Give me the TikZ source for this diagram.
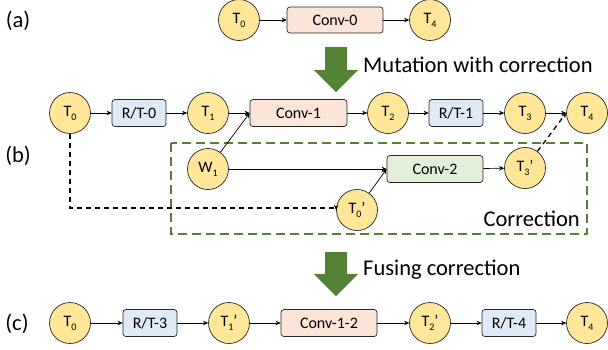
\documentclass[tikz,border=0pt]{standalone}
\usepackage{fontspec}
\setmainfont{Carlito}
\usetikzlibrary{arrows.meta}
\definecolor{circfill}{HTML}{FFE699}
\definecolor{convfill}{HTML}{FBE5D6}
\definecolor{rtfill}{HTML}{DEEBF7}
\definecolor{cvtwofill}{HTML}{E2F0D9}
\definecolor{darkgreen}{HTML}{548235}
\newcommand{\subs}[1]{\raisebox{-0.25em}{\fontsize{10}{10}\selectfont #1}}
\begin{document}
\begin{tikzpicture}[x=1pt,y=-1pt,
  tens/.style={circle,draw=black!85,line width=0.7pt,fill=circfill,minimum size=41pt,inner sep=0pt,font=\fontsize{16}{16}\selectfont},
  opbox/.style={rectangle,rounded corners=3pt,draw=black!85,line width=0.7pt,minimum height=27pt,inner sep=0pt,font=\fontsize{16}{16}\selectfont},
  rtbox/.style={opbox,fill=rtfill,minimum width=54pt},
  convbox/.style={opbox,fill=convfill,minimum width=96pt},
  cvtwobox/.style={opbox,fill=cvtwofill,minimum width=96pt},
  conn/.style={-{Stealth[length=5pt,width=4.5pt]},line width=0.7pt},
  dconn/.style={conn,dash pattern=on 5pt off 4pt,line width=1.3pt},
  biglabel/.style={font=\fontsize{22.5}{22.5}\selectfont,inner sep=0pt},
  bigarrow/.style={fill=darkgreen,draw=none},
  corrframe/.style={draw=darkgreen,line width=1.8pt,dash pattern=on 9pt off 5pt}]
\useasboundingbox (0,0) rectangle (608,349);

% labels
\node[biglabel] (la) at (18,21) {(a)};
\node[biglabel] (lb) at (18,156) {(b)};
\node[biglabel] (lc) at (17,324) {(c)};

% (a)
\node[tens] (aT0) at (239,20) {T\subs{0}};
\node[convbox,minimum height=26pt] (aC0) at (335,20) {Conv-0};
\node[tens] (aT4) at (430,20) {T\subs{4}};
\draw[conn] (aT0) -- (aC0);
\draw[conn] (aC0) -- (aT4);

% big arrow 1
\fill[bigarrow] (325,47) -- (347,47) -- (347,70) -- (358,70) -- (336,92) -- (314,70) -- (325,70) -- cycle;
\node[biglabel,anchor=base west] (mut) at (363,72) {Mutation with correction};

% correction frame
\draw[corrframe] (171,143) rectangle (587,234);
\node[biglabel,anchor=base east] (corr) at (580,226) {Correction};

% (b)
\node[tens] (bT0) at (70,113) {T\subs{0}};
\node[rtbox] (bR0) at (139,113) {R/T-0};
\node[tens] (bT1) at (208,113) {T\subs{1}};
\node[convbox,minimum width=97pt] (bC1) at (298.5,113) {Conv-1};
\node[tens] (bT2) at (388,113) {T\subs{2}};
\node[rtbox] (bR1) at (456,113) {R/T-1};
\node[tens] (bT3) at (525,113) {T\subs{3}};
\node[tens] (bT4) at (587,113) {T\subs{4}};
\node[tens] (bW1) at (208,169) {W\subs{1}};
\node[cvtwobox] (bC2) at (435,169) {Conv-2};
\node[tens] (bT3p) at (525,168) {T\subs{3}’};
\node[tens] (bT0p) at (357,210) {T\subs{0}’};
\coordinate (bend) at (70,208);

\draw[conn] (bT0) -- (bR0);
\draw[conn] (bR0) -- (bT1);
\draw[conn] (bT1) -- (bC1);
\draw[conn] (bW1) -- (bC1.west);
\draw[conn] (bC1) -- (bT2);
\draw[conn] (bT2) -- (bR1);
\draw[conn] (bR1) -- (bT3);
\draw[conn] (bT3) -- (bT4);
\draw[conn] (bW1) -- (bC2);
\draw[conn] (bT0p) -- (bC2.west);
\draw[conn] (bC2) -- (bT3p);
\draw[dconn] (bT3p) -- (bT4.west);
\draw[dconn] (bT0.south) -- (bend) -- (bT0p.west |- bend) -- (bT0p.west);

% big arrow 2
\fill[bigarrow] (325,252) -- (347,252) -- (347,274) -- (358,274) -- (336,296) -- (314,274) -- (325,274) -- cycle;
\node[biglabel,anchor=base west] (fus) at (363,275) {Fusing correction};

% (c)
\node[tens] (cT0) at (70,323) {T\subs{0}};
\node[rtbox] (cR3) at (150,323) {R/T-3};
\node[tens] (cT1p) at (229,323) {T\subs{1}’};
\node[convbox] (cC12) at (329,323) {Conv-1-2};
\node[tens] (cT2p) at (430,323) {T\subs{2}’};
\node[rtbox] (cR4) at (509,323) {R/T-4};
\node[tens] (cT4) at (587,323) {T\subs{4}};
\draw[conn] (cT0) -- (cR3);
\draw[conn] (cR3) -- (cT1p);
\draw[conn] (cT1p) -- (cC12);
\draw[conn] (cC12) -- (cT2p);
\draw[conn] (cT2p) -- (cR4);
\draw[conn] (cR4) -- (cT4);
\end{tikzpicture}
\end{document}
